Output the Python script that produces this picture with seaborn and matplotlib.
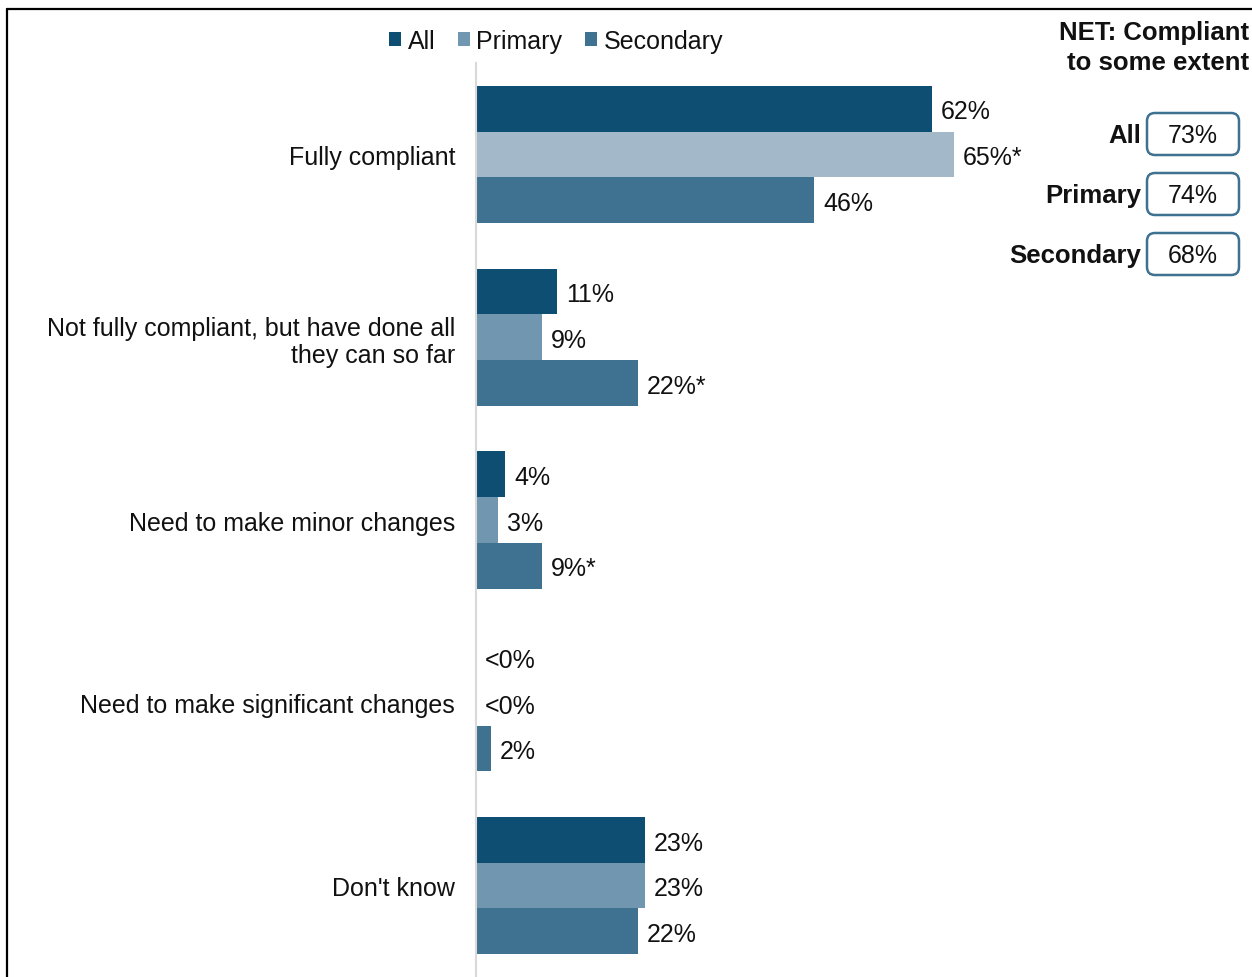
import matplotlib
matplotlib.use("Agg")
import matplotlib.pyplot as plt
from matplotlib.patches import Patch, FancyBboxPatch
from matplotlib.lines import Line2D
import seaborn as sns
import pandas as pd

# --- data -------------------------------------------------------------
categories = [
    "Fully compliant",
    "Not fully compliant, but have done all\nthey can so far",
    "Need to make minor changes",
    "Need to make significant changes",
    "Don't know",
]
groups = ["All", "Primary", "Secondary"]
all_vals = [62, 11, 4, 0, 23]
primary_vals = [65, 9, 3, 0, 23]
secondary_vals = [46, 22, 9, 2, 22]
all_labels = ["62%", "11%", "4%", "<0%", "23%"]
primary_labels = ["65%*", "9%", "3%", "<0%", "23%"]
secondary_labels = ["46%", "22%*", "9%*", "2%", "22%"]
net_groups = ["All", "Primary", "Secondary"]
net_labels = ["73%", "74%", "68%"]

colors = {"All": "#0f4e73", "Primary": "#7096b0", "Secondary": "#3f7190"}
highlight_primary = "#a3b9c9"

df = pd.DataFrame({
    "category": categories * 3,
    "group": [g for g in groups for _ in categories],
    "value": all_vals + primary_vals + secondary_vals,
    "label": all_labels + primary_labels + secondary_labels,
})

# --- figure -----------------------------------------------------------
sns.set_theme(style="white")
plt.rcParams["font.family"] = ["Liberation Sans", "DejaVu Sans"]
FS = 18
TXT = "#111111"

W, H = 1252, 978
fig = plt.figure(figsize=(W / 100, H / 100), dpi=100)
ax_left, ax_top = 476, 64
ax = fig.add_axes([ax_left / W, 0, (W - ax_left) / W, (H - ax_top) / H])

sns.barplot(data=df, y="category", x="value", hue="group", order=categories,
            hue_order=groups, palette=colors, orient="h", width=0.75,
            saturation=1, linewidth=0, legend=False, ax=ax)

# the primary bar for "Fully compliant" is shown in a lighter tint
n = len(categories)
bars = ax.patches
bars[n + 0].set_facecolor(highlight_primary)

# value labels
for gi, g in enumerate(groups):
    sub = df[df.group == g]
    for ci, (v, lab) in enumerate(zip(sub.value, sub.label)):
        bar = bars[gi * n + ci]
        yc = bar.get_y() + bar.get_height() / 2
        ax.annotate(lab, xy=(v, yc), xytext=(6.5, -2), textcoords="offset points",
                    va="center", ha="left", fontsize=FS, color=TXT)

ax.set_xlim(0, (W - ax_left) / 7.35)
ax.set_ylim(4.5, -0.5)
ax.set_xlabel("")
ax.set_ylabel("")
ax.set_xticks([])
ax.tick_params(axis="y", length=0, pad=15, labelsize=FS, labelcolor=TXT)
for lbl in ax.get_yticklabels():
    lbl.set_horizontalalignment("right")
for s in ["top", "right", "bottom"]:
    ax.spines[s].set_visible(False)
ax.spines["left"].set_color("#d9d9d9")
ax.spines["left"].set_linewidth(1.5)

# legend
handles = [Patch(facecolor=colors[g], edgecolor="none", label=g) for g in groups]
fig.legend(handles=handles, loc="center", bbox_to_anchor=(556 / W, 1 - 42 / H),
           ncol=3, frameon=False, fontsize=FS, handlelength=0.5, handleheight=0.5,
           handletextpad=0.25, columnspacing=0.9, borderaxespad=0, labelcolor=TXT)

# NET panel
fig.text(1249 / W, 1 - 48 / H, "NET: Compliant\nto some extent", ha="right",
         va="center", fontsize=FS + 0.5, fontweight="bold", color=TXT,
         linespacing=1.3)
box_y = [135, 195, 255]
for g, lab, yc in zip(net_groups, net_labels, box_y):
    fig.text(1141 / W, 1 - (yc + 1) / H, g, ha="right", va="center", fontsize=FS + 0.5,
             fontweight="bold", color=TXT)
    x0, x1 = 1147, 1239
    hgt = 42
    box = FancyBboxPatch((x0 / 100, (H - yc - hgt / 2) / 100),
                         (x1 - x0) / 100, hgt / 100,
                         boxstyle="round,pad=0,rounding_size=0.08",
                         transform=fig.dpi_scale_trans, facecolor="white",
                         edgecolor="#3f7190", linewidth=1.8)
    fig.add_artist(box)
    fig.text((x0 + x1) / 2 / W, 1 - (yc + 1) / H, lab, ha="center", va="center",
             fontsize=FS, color=TXT)

# outer frame (top and left edges)
fig.add_artist(Line2D([7 / W, 1], [1 - 10 / H, 1 - 10 / H], transform=fig.transFigure,
                      color="black", lw=1.6))
fig.add_artist(Line2D([7 / W, 7 / W], [0, 1 - 10 / H], transform=fig.transFigure,
                      color="black", lw=1.6))

fig.savefig("out.png", dpi=100, facecolor="white")
